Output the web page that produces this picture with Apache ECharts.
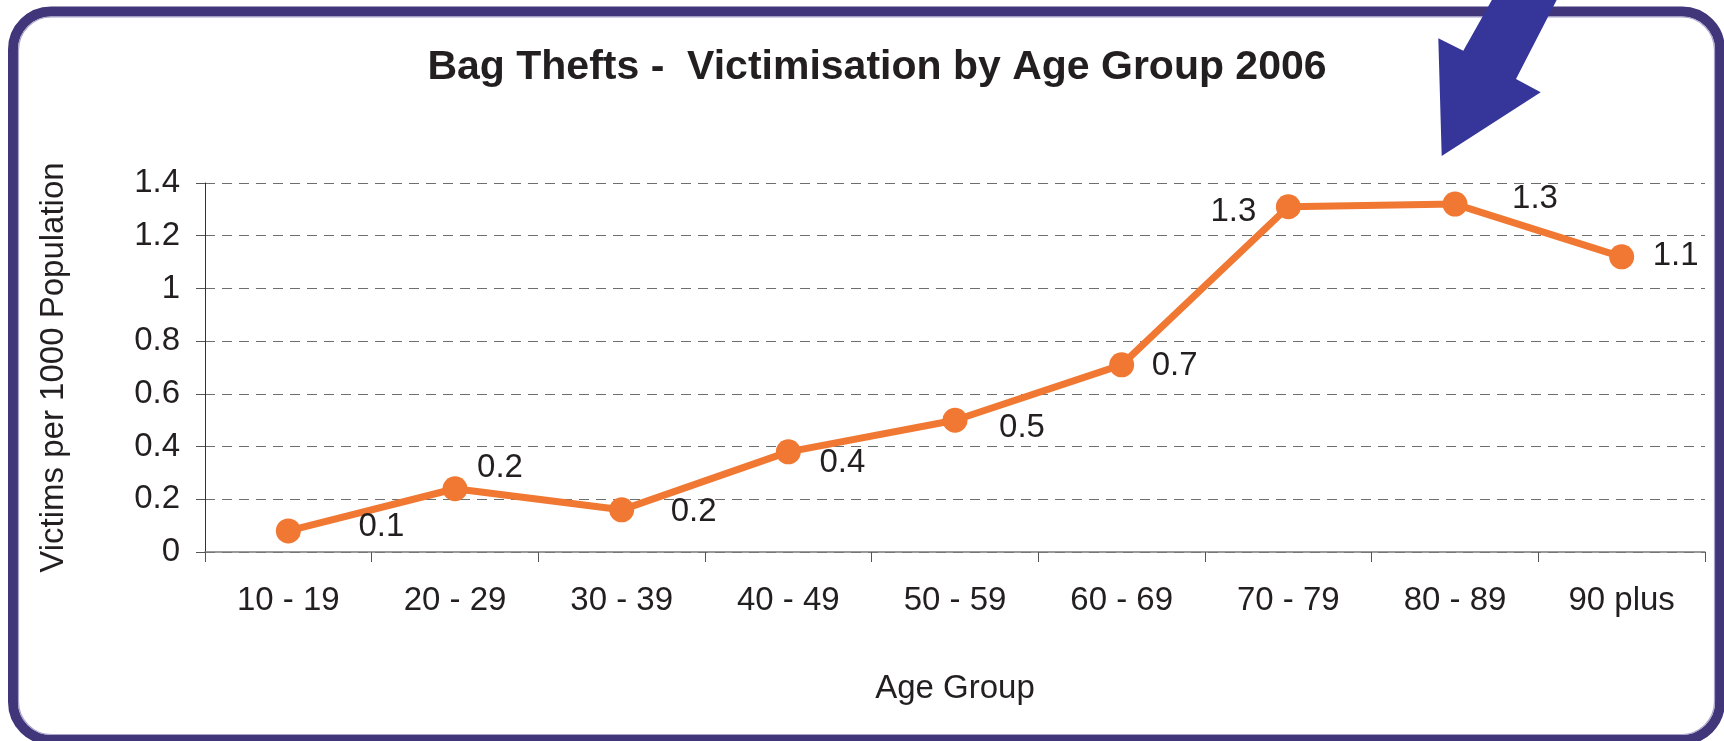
<!DOCTYPE html>
<html>
<head>
<meta charset="utf-8">
<script src="https://cdn.jsdelivr.net/npm/echarts@6/dist/echarts.min.js"></script>
<style>
html,body{margin:0;padding:0;background:#fff;}
#chart{width:1724px;height:741px;}
</style>
</head>
<body>
<div id="chart"></div>
<script>
// ---- data ----
const titleText = 'Bag Thefts -  Victimisation by Age Group 2006';
const categories = ['10 - 19', '20 - 29', '30 - 39', '40 - 49', '50 - 59', '60 - 69', '70 - 79', '80 - 89', '90 plus'];
const victimsPer1000 = [0.08, 0.24, 0.16, 0.38, 0.50, 0.71, 1.31, 1.32, 1.12];
const yAxisName = 'Victims per 1000 Population';
const xAxisName = 'Age Group';
const yMin = 0, yMax = 1.4, yInterval = 0.2;

// ---- layout (label offsets from each point, px) ----
const labelOffsets = [[93, -4], [45, -21], [72, 2], [54, 11], [67, 8], [53, 1], [-55, 5], [80, -5], [54, -1]];

const textColor = '#231f20';
const orange = '#f07832';
const fontFam = 'Liberation Sans, Arial, sans-serif';

const chart = echarts.init(document.getElementById('chart'), null, {renderer: 'canvas'});
chart.setOption({
  backgroundColor: '#ffffff',
  animation: false,
  title: {
    text: titleText,
    left: 872,
    top: 42,
    textAlign: 'center',
    textStyle: {fontFamily: fontFam, fontWeight: 'bold', fontSize: 41, color: textColor}
  },
  grid: {left: 205, right: 19, top: 183, bottom: 189, containLabel: false},
  xAxis: {
    type: 'category',
    data: categories,
    boundaryGap: true,
    name: xAxisName,
    nameLocation: 'middle',
    nameGap: 120,
    nameTextStyle: {fontFamily: fontFam, fontSize: 33, color: textColor},
    axisLine: {show: true, lineStyle: {color: '#7a7a7a', width: 1.5}},
    axisTick: {show: true, alignWithLabel: false, length: 10, lineStyle: {color: '#555', width: 1}},
    axisLabel: {fontFamily: fontFam, fontSize: 33, color: textColor, margin: 32, interval: 0},
    splitLine: {show: false}
  },
  yAxis: {
    type: 'value',
    min: yMin, max: yMax, interval: yInterval,
    name: yAxisName,
    nameLocation: 'middle',
    nameRotate: 90,
    nameGap: 135,
    nameTextStyle: {fontFamily: fontFam, fontSize: 33, color: textColor},
    axisLine: {show: true, lineStyle: {color: '#333', width: 1}},
    axisTick: {show: true, length: 9, lineStyle: {color: '#555', width: 1}},
    axisLabel: {fontFamily: fontFam, fontSize: 33, color: textColor, margin: 25},
    splitLine: {show: true, lineStyle: {color: '#6e6e6e', width: 1, type: [10, 7]}}
  },
  series: [{
    type: 'line',
    data: victimsPer1000.map((v, i) => ({value: v, label: {offset: labelOffsets[i]}})),
    symbol: 'circle',
    symbolSize: 25,
    lineStyle: {color: orange, width: 7},
    itemStyle: {color: orange},
    z: 5,
    label: {
      show: true,
      position: 'inside',
      align: 'center',
      verticalAlign: 'middle',
      fontFamily: fontFam,
      fontSize: 33,
      color: textColor,
      formatter: p => Number(p.value).toFixed(1)
    }
  }],
  graphic: [
    {
      type: 'rect',
      z: 100,
      silent: true,
      shape: {x: 13, y: 11.5, width: 1707, height: 728.5, r: 38},
      style: {fill: null, stroke: '#41367a', lineWidth: 10}
    },
    {
      type: 'rect',
      z: 100,
      silent: true,
      shape: {x: 18.5, y: 17, width: 1696, height: 717.5, r: 33},
      style: {fill: null, stroke: '#a8a4cc', lineWidth: 1.2}
    },
    {
      type: 'polygon',
      z: 101,
      silent: true,
      shape: {points: [[1493, -2], [1463.3, 50.7], [1438.3, 38.3], [1441.7, 156], [1540.7, 92.3], [1516, 79], [1557.7, -2]]},
      style: {fill: '#36369a', stroke: null}
    }
  ]
});
</script>
</body>
</html>
